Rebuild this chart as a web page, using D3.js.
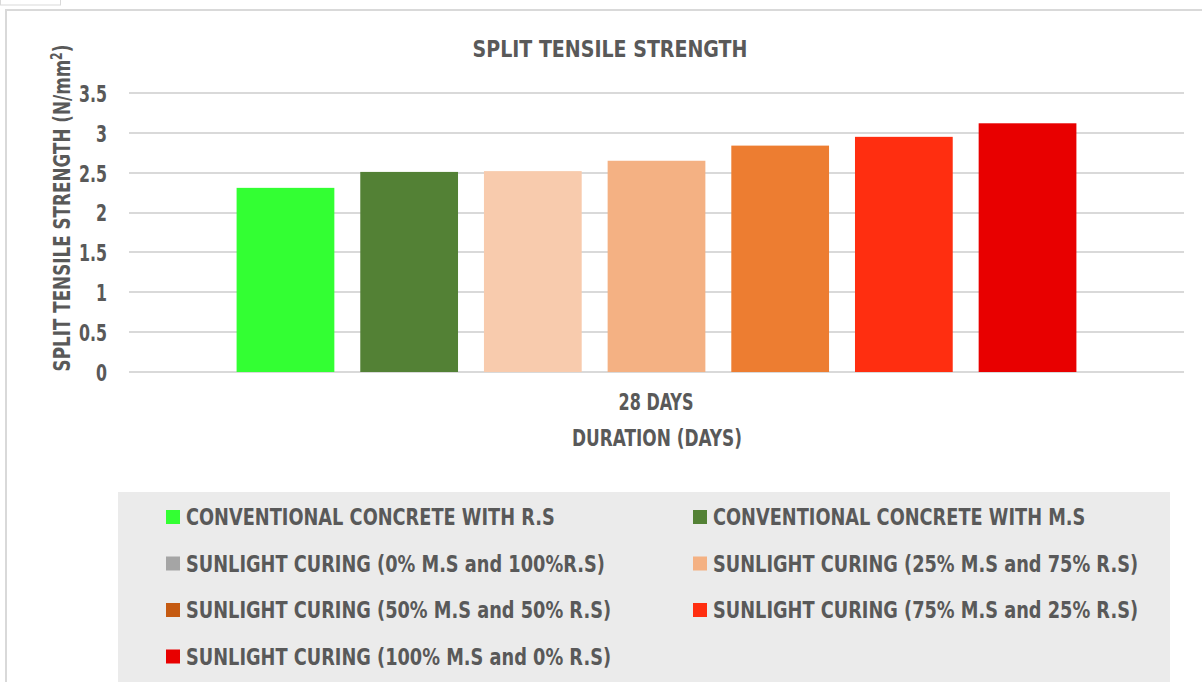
<!DOCTYPE html>
<html>
	<head>
		<script src="https://cdn.jsdelivr.net/npm/d3@7"></script>
		<style type="text/css">
			body { margin: 0; background: #fff; }
			text { font-family: "Liberation Sans Narrow", "DejaVu Sans Condensed", sans-serif; font-weight: bold; fill: #595959; }
		</style>
	</head>
	<body>
		<script>
			// data
			var category = "28 DAYS";
			var series = [
				"CONVENTIONAL CONCRETE WITH R.S",
				"CONVENTIONAL CONCRETE WITH M.S",
				"SUNLIGHT CURING (0% M.S and 100%R.S)",
				"SUNLIGHT CURING (25% M.S and 75% R.S)",
				"SUNLIGHT CURING (50% M.S and 50% R.S)",
				"SUNLIGHT CURING (75% M.S and 25% R.S)",
				"SUNLIGHT CURING (100% M.S and 0% R.S)"
			];
			var values = [2.31, 2.51, 2.52, 2.65, 2.84, 2.95, 3.12];
			var barColors = ["#33FF33", "#538135", "#F8CBAD", "#F4B183", "#ED7D31", "#FF2E10", "#E80000"];
			// legend swatches differ from bars in the original
			var legendColors = ["#33FF33", "#538135", "#A5A5A5", "#F4B183", "#C55A11", "#FF2E10", "#E80000"];
			var yTicks = [0, 0.5, 1, 1.5, 2, 2.5, 3, 3.5];

			(function () {
				var svg = d3.select("body").append("svg")
					.attr("width", 1202)
					.attr("height", 682);

				// the fallback font is wider than the original narrow one,
				// so squeeze each text horizontally by factor k (about its own x,y)
				function squeeze(sel, k) {
					sel.each(function () {
						var t = d3.select(this);
						var tx = +t.attr("x") || 0, ty = +t.attr("y") || 0;
						t.attr("x", 0).attr("y", 0)
							.attr("transform", "translate(" + tx + "," + ty + ") scale(" + k + ",1)");
					});
				}
				function factor(node, target) {
					return target / node.getComputedTextLength();
				}

				// frame
				svg.append("rect")
					.attr("x", 0.5).attr("y", -5)
					.attr("width", 60).attr("height", 10)
					.attr("fill", "none").attr("stroke", "#D9D9D9");
				svg.append("rect")
					.attr("x", 6).attr("y", 10)
					.attr("width", 1300).attr("height", 1000)
					.attr("fill", "#fff").attr("stroke", "#D9D9D9").attr("stroke-width", 2);

				var plotLeft = 129, plotRight = 1184, plotTop = 93, plotBottom = 372;

				var y = d3.scaleLinear().domain([0, 3.5]).range([plotBottom, plotTop]);
				var x = d3.scaleBand().domain(series).range([plotLeft, plotRight])
					.paddingInner(26 / 124).paddingOuter(0.87);

				// grid lines
				svg.append("g").selectAll("line")
					.data(yTicks)
					.enter().append("line")
					.attr("x1", plotLeft).attr("x2", plotRight)
					.attr("y1", function (d) { return Math.round(y(d)); })
					.attr("y2", function (d) { return Math.round(y(d)); })
					.attr("stroke", "#D9D9D9").attr("stroke-width", 2);

				// y axis labels
				var yAxis = svg.append("g")
					.attr("transform", "translate(107,0)")
					.call(d3.axisLeft(y).tickValues(yTicks).tickSize(0).tickPadding(0)
						.tickFormat(function (d) { return d; }));
				yAxis.select(".domain").remove();
				var yLabels = yAxis.selectAll("text")
					.attr("font-size", 23)
					.attr("font-family", null)
					.attr("fill", null)
					.attr("dy", "0.36em");
				squeeze(yLabels, factor(yLabels.filter(function (d) { return d === 3.5; }).node(), 28));

				// bars
				svg.append("g").selectAll("rect")
					.data(values)
					.enter().append("rect")
					.attr("x", function (d, i) { return x(series[i]); })
					.attr("width", x.bandwidth())
					.attr("y", function (d) { return y(d); })
					.attr("height", function (d) { return y(0) - y(d); })
					.attr("fill", function (d, i) { return barColors[i]; });

				// title
				var title = svg.append("text")
					.attr("x", 610).attr("y", 57)
					.attr("text-anchor", "middle")
					.attr("font-size", 23)
					.text("SPLIT TENSILE STRENGTH");
				squeeze(title, factor(title.node(), 275));

				// axis titles
				var cat = svg.append("text")
					.attr("x", 656).attr("y", 410)
					.attr("text-anchor", "middle")
					.attr("font-size", 23)
					.text(category);
				squeeze(cat, factor(cat.node(), 75));
				var xt = svg.append("text")
					.attr("x", 657).attr("y", 446)
					.attr("text-anchor", "middle")
					.attr("font-size", 23)
					.text("DURATION (DAYS)");
				squeeze(xt, factor(xt.node(), 170));

				var yt = svg.append("text")
					.attr("text-anchor", "middle")
					.attr("font-size", 23);
				yt.append("tspan").text("SPLIT TENSILE STRENGTH (N/mm");
				yt.append("tspan").attr("font-size", 15).attr("dy", -8).text("2");
				yt.append("tspan").attr("dy", 8).text(")");
				var ytScale = 327 / yt.node().getComputedTextLength();
				yt.attr("transform", "translate(70,208) rotate(-90) scale(" + ytScale + ",1)");

				// legend
				svg.append("rect")
					.attr("x", 118).attr("y", 492)
					.attr("width", 1052).attr("height", 200)
					.attr("fill", "#EBEBEB");

				var legend = svg.append("g").selectAll("g")
					.data(series)
					.enter().append("g")
					.attr("transform", function (d, i) {
						return "translate(" + (i % 2 ? 693 : 166) + "," + (517 + Math.floor(i / 2) * 46.5) + ")";
					});
				legend.append("rect")
					.attr("x", 0).attr("y", -7)
					.attr("width", 14).attr("height", 14)
					.attr("fill", function (d, i) { return legendColors[i]; });
				var lt = legend.append("text")
					.attr("x", 20).attr("dy", "0.36em")
					.attr("font-size", 23)
					.text(function (d) { return d; });
				squeeze(lt, factor(lt.node(), 369));
			})();
		</script>
	</body>
</html>
